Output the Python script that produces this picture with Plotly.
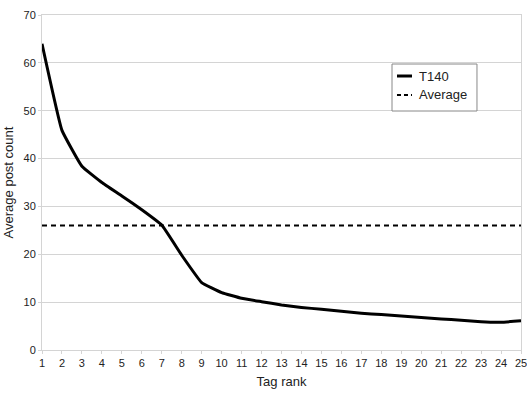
import plotly.graph_objects as go

ranks = list(range(1, 26))
t140 = [64, 45.9, 38.4, 35.0, 32.2, 29.3, 26.1, 19.8, 14.1, 12.0,
        10.8, 10.1, 9.4, 8.9, 8.5, 8.1, 7.7, 7.4, 7.1, 6.8,
        6.5, 6.2, 5.9, 5.8, 6.1]
average = [26.0] * 25
series_names = ["T140", "Average"]

fig = go.Figure()
fig.add_trace(go.Scatter(x=ranks, y=t140, mode="lines", name=series_names[0],
                         line=dict(color="black", width=3, shape="spline", smoothing=0.3)))
fig.add_trace(go.Scatter(x=ranks, y=average, mode="lines", name=series_names[1],
                         line=dict(color="black", width=2, dash="5px,4px")))

grid = "#d4d4d4"

# custom legend box (plot-area fractions)
fig.add_shape(type="rect", xref="paper", yref="paper", x0=0.7307, x1=0.9081,
              y0=0.7134, y1=0.8537, line=dict(color="#888888", width=1),
              fillcolor="white", layer="above")
fig.add_shape(type="line", xref="paper", yref="paper", x0=0.7411, x1=0.7724,
              y0=0.8179, y1=0.8179, line=dict(color="black", width=3), layer="above")
fig.add_shape(type="line", xref="paper", yref="paper", x0=0.7411, x1=0.7724,
              y0=0.7612, y1=0.7612, line=dict(color="black", width=2, dash="4px,3px"),
              layer="above")
for name, yy in zip(series_names, [0.8179, 0.7612]):
    fig.add_annotation(text=name, xref="paper", yref="paper", x=0.7829, y=yy,
                       xanchor="left", yanchor="middle", showarrow=False,
                       font=dict(size=13, color="#222222"))

fig.update_layout(
    width=527, height=398,
    margin=dict(l=42, r=6, t=15, b=48, autoexpand=False),
    paper_bgcolor="white", plot_bgcolor="white",
    font=dict(family="Liberation Sans, Arial, sans-serif", color="#222222", size=11),
    showlegend=False,
    xaxis=dict(range=[1, 25], tickmode="array", tickvals=ranks,
               ticktext=[str(r) for r in ranks], ticklabeloverflow="allow",
               automargin=False,
               showgrid=False, zeroline=False, showline=True, linecolor=grid,
               mirror=True, ticks="outside", ticklen=3, tickcolor=grid,
               title=dict(text="Tag rank", font=dict(size=13), standoff=8)),
    yaxis=dict(range=[0, 70], dtick=10, showgrid=True, gridcolor=grid,
               automargin=False,
               zeroline=False, showline=True, linecolor=grid, mirror=True,
               ticks="outside", ticklen=3, tickcolor=grid,
               title=dict(text="Average post count", font=dict(size=13), standoff=6)),
)

fig.write_html("out.html")
